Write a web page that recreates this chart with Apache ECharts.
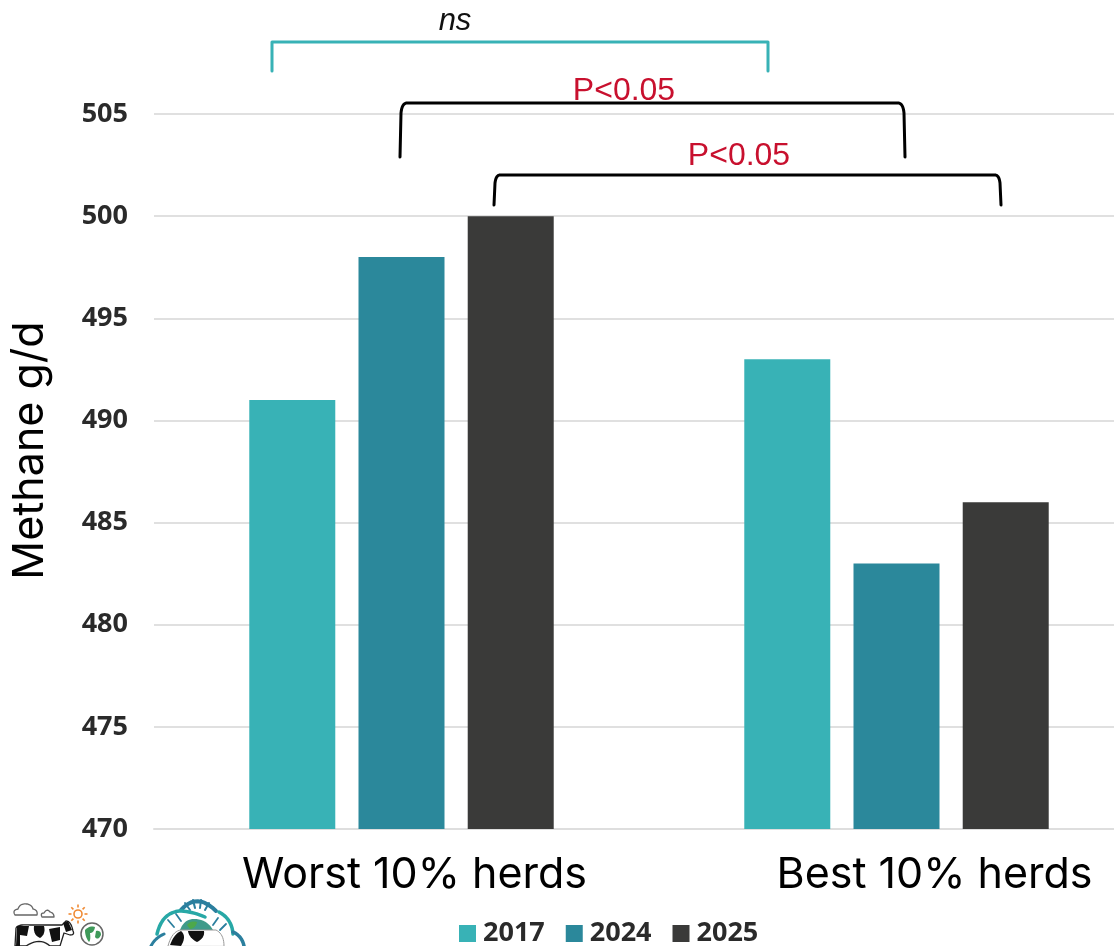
<!DOCTYPE html>
<html><head><meta charset="utf-8"><style>html,body{margin:0;padding:0;background:#fff}#c{width:1114px;height:946px}</style>
<script src="https://cdn.jsdelivr.net/npm/echarts@6/dist/echarts.min.js"></script></head>
<body><div id="c"></div><script>
const categories = ['Worst 10% herds', 'Best 10% herds'];
const v2017 = [491, 493];
const v2024 = [498, 483];
const v2025 = [500, 486];
const seriesNames = ['2017', '2024', '2025'];
const colors = ['#38b2b6', '#2b889b', '#3a3a39'];
const chart = echarts.init(document.getElementById('c'), null, {renderer:'canvas'});
// tiny outline reader: M, L, Q commands flattened to polylines / polygons for annotations and logos
function flatten(d){
  const t = d.match(/[MLQ]|-?[\d.]+/g), subs = []; let cur = null, i = 0, cmd = null;
  while(i < t.length){
    if(/[MLQ]/.test(t[i])) cmd = t[i++];
    if(cmd === 'M'){ cur = [[+t[i], +t[i+1]]]; subs.push(cur); i += 2; }
    else if(cmd === 'L'){ cur.push([+t[i], +t[i+1]]); i += 2; }
    else if(cmd === 'Q'){
      const p0 = cur[cur.length-1], c = [+t[i], +t[i+1]], e = [+t[i+2], +t[i+3]]; i += 4;
      for(let k=1;k<=10;k++){ const u=k/10, v=1-u;
        cur.push([v*v*p0[0]+2*u*v*c[0]+u*u*e[0], v*v*p0[1]+2*u*v*c[1]+u*u*e[1]]); }
    }
  }
  return subs;
}
function deco(d, style){
  const filled = style.fill && style.fill !== 'none';
  return {type:'group', children: flatten(d).map(points => ({
    type: filled ? 'polygon' : 'polyline', shape:{points},
    style:Object.assign({fill:filled?style.fill:null, lineCap:'round', lineJoin:'round'}, style), z:10}))};
}
function bracket(x1, x2, yTop, yBot, color, lw, r){
  const p = r
    ? `M${x1} ${yBot} L${x1+1} ${yTop+r*2} Q${x1+2} ${yTop} ${x1+r+2} ${yTop} L${x2-r-2} ${yTop} Q${x2-2} ${yTop} ${x2-1} ${yTop+r*2} L${x2} ${yBot}`
    : `M${x1} ${yBot} L${x1} ${yTop} L${x2} ${yTop} L${x2} ${yBot}`;
  return deco(p, {stroke:color, lineWidth:lw});
}
function label(text, cx, cy, color, extra){
  return {type:'text', style:Object.assign({text, x:cx, y:cy, fill:color, align:'center', verticalAlign:'middle', font:'32px "Liberation Sans"'}, extra||{}), z:11};
}
const sunRays = [0,1,2,3,4,5,6,7].map(i=>{
  const a=i*Math.PI/4, c=Math.cos(a), s=Math.sin(a);
  return {type:'line', shape:{x1:78+6.5*c,y1:914+6.5*s,x2:78+9.5*c,y2:914+9.5*s}, style:{stroke:'#f08a33',lineWidth:1.6}};
});
const series = [v2017, v2024, v2025].map((d,i)=>({
  name:seriesNames[i], type:'bar', data:d, barWidth:86, barGap:'27%', itemStyle:{color:colors[i]}
}));
chart.setOption({
  animation:false,
  backgroundColor:'#fff',
  grid:{left:154, top:114, right:-30, bottom:117, containLabel:false, outerBoundsMode:'none'},
  legend:{left:454, top:915, itemWidth:17, itemHeight:17, itemGap:21, icon:'rect',
    textStyle:{fontFamily:'Open Sans', fontWeight:'bold', fontSize:27, color:'#2a2a2a', padding:[0,0,0,2]},
    data:seriesNames},
  xAxis:{type:'category', data:[
      {value:categories[0], textStyle:{padding:[0,0,0,26]}},
      {value:categories[1], textStyle:{padding:[0,0,0,76]}}],
    axisTick:{show:false}, axisLine:{show:true, lineStyle:{color:'#dedede', width:2}},
    axisLabel:{fontFamily:'Inter', fontSize:43, color:'#000', margin:25, interval:0}},
  yAxis:{type:'value', min:470, max:505, interval:5, name:'Methane g/d', nameLocation:'middle', nameGap:102,
    nameTextStyle:{fontFamily:'Inter', fontSize:43, color:'#000', padding:[0,0,0,42]},
    axisLine:{show:false}, axisTick:{show:false},
    axisLabel:{fontFamily:'Open Sans', fontWeight:'bold', fontSize:27, color:'#2a2a2a', margin:26},
    splitLine:{lineStyle:{color:'#e0e0e0', width:2}}},
  series,
  graphic:[
    bracket(272,768,42,71,'#38b2b6',3,0),
    bracket(400,905,103,157,'#000',3,5),
    bracket(494,1001,175,205,'#000',3,4),
    label('ns',455,21,'#111',{font:'italic 31px "Liberation Sans"'}),
    label('P<0.05',624,91,'#c8102e'),
    label('P<0.05',739,156,'#c8102e'),
    {type:'group', silent:true, children:[
      deco('M15 915 Q12 910 18 909 Q20 903 27 904 Q32 905 33 909 Q38 910 37 915 L15 915',{stroke:'#666',lineWidth:1.3}),
      deco('M42 917 Q40 913 44 913 Q47 908 50 912 Q54 913 54 917 L42 917',{stroke:'#666',lineWidth:1.3}),
      {type:'circle', shape:{cx:78,cy:914,r:4}, style:{fill:'none',stroke:'#f08a33',lineWidth:1.6}},
      ...sunRays,
      {type:'circle', shape:{cx:92,cy:934,r:11}, style:{fill:'#fff',stroke:'#666',lineWidth:1.5}},
      deco('M85 930 Q90 925 95 927 Q94 933 90 933 Q91 940 89 942 Q85 937 85 930',{fill:'#3f9a5a'}),
      deco('M96 931 Q101 930 101 935 Q98 941 95 937',{fill:'#3f9a5a'}),
      deco('M15 946 L16 928 Q18 924 30 925 L62 925 L66 921 Q71 921 73 931 Q75 935 70 935 L64 933 L60 946 L50 946 Q40 937 26 946',{fill:'#fff',stroke:'#222',lineWidth:1.3}),
      deco('M17 926 L29 926 L27 936 L20 935 L20 946 L16 946',{fill:'#111'}),
      deco('M34 926 L44 926 Q46 934 40 938 Q33 935 34 926',{fill:'#111'}),
      deco('M49 929 L60 927 L60 940 L52 942',{fill:'#111'}),
      deco('M63 923 L68 921 L72 930 L66 932',{fill:'#111'}),
      deco('M181 910 Q197 892 216 911',{stroke:'#2b7f9e',lineWidth:4}),
      deco('M185 903 L190 910 M193 900 L195 908 M201 900 L200 908 M209 903 L205 910',{stroke:'#2b7f9e',lineWidth:2}),
      deco('M157 934 Q162 913 179 911 Q191 911 205 917',{stroke:'#27a8a6',lineWidth:3.5}),
      deco('M233 934 Q232 919 219 912',{stroke:'#27a8a6',lineWidth:3.5}),
      deco('M168 920 L174 927 M176 914 L181 921 M218 918 L213 925 M226 924 L220 930',{stroke:'#2b7f9e',lineWidth:1.8}),
      deco('M151 946 Q155 938 164 934',{stroke:'#2b7f9e',lineWidth:3}),
      deco('M233 932 Q242 936 244 946',{stroke:'#2b7f9e',lineWidth:3.5}),
      deco('M180 930 Q184 919 194 919 Q207 919 213 930',{fill:'#3f9a8a'}),
      deco('M187 925 Q191 920 197 922 Q196 928 190 929',{fill:'#4da84a'}),
      deco('M168 946 Q172 931 181 930 L216 930 Q224 934 224 946',{fill:'#fff',stroke:'#999',lineWidth:1}),
      deco('M170 945 Q174 934 181 931 Q187 936 181 946',{fill:'#111'}),
      deco('M188 931 L204 931 Q205 938 197 942 Q189 938 188 931',{fill:'#111'})
    ]}
  ]
});
</script></body></html>
